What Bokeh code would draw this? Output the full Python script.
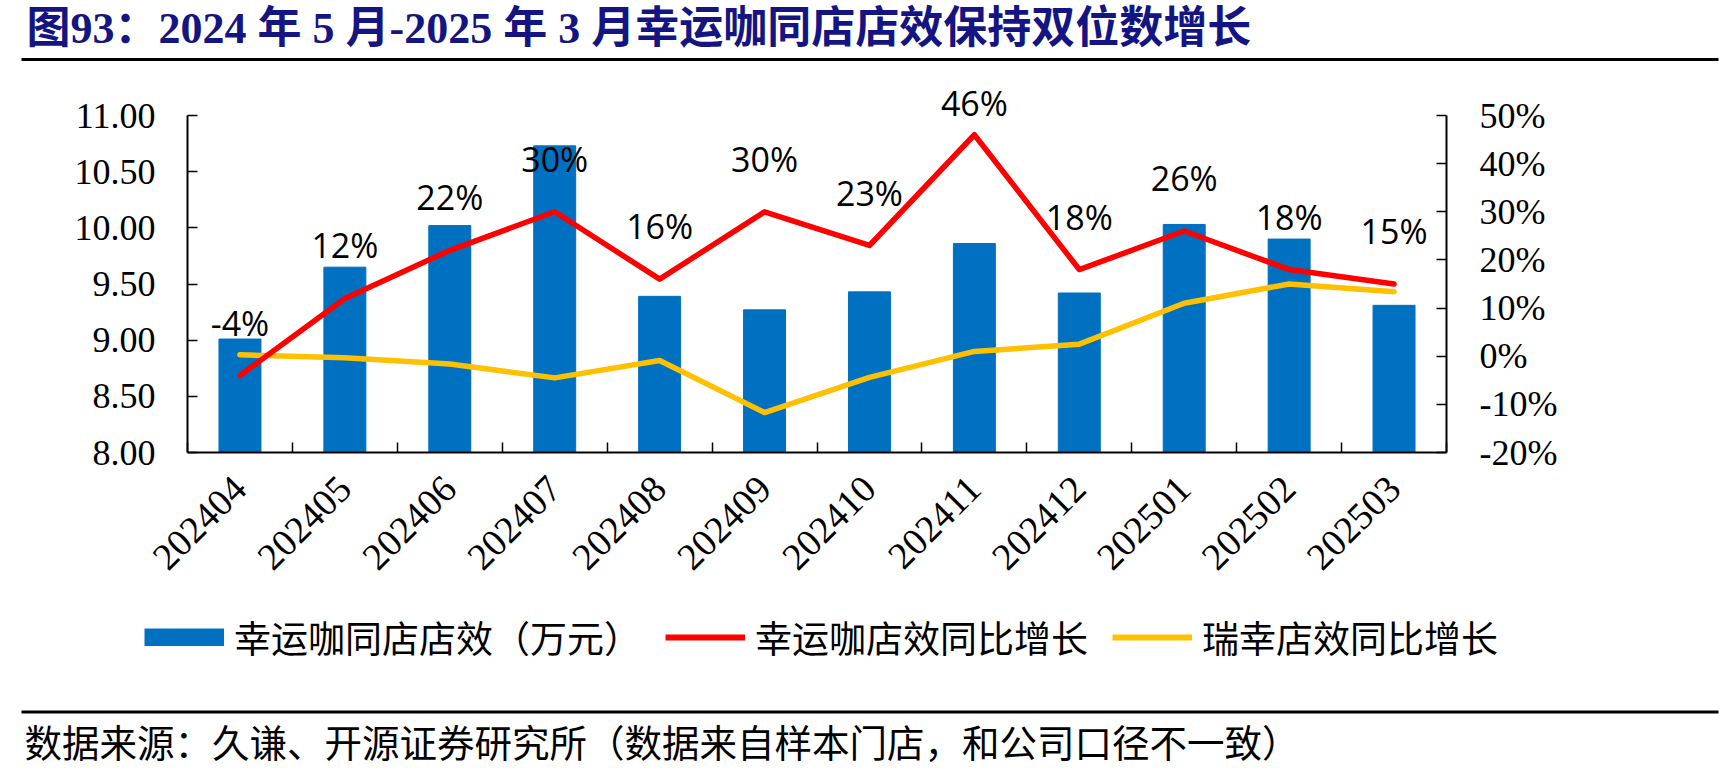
import math
from bokeh.plotting import figure
from bokeh.layouts import column
from bokeh.models import (ColumnDataSource, Range1d, LinearAxis, FixedTicker, PrintfTickFormatter,
                          NumeralTickFormatter, CustomJSTickFormatter, LabelSet, Label, Legend,
                          LegendItem, BoxAnnotation)
from bokeh.core.properties import value
from bokeh.embed import file_html
from bokeh.resources import INLINE

# ---------------- data ----------------
months = ["202404", "202405", "202406", "202407", "202408", "202409",
          "202410", "202411", "202412", "202501", "202502", "202503"]
store_eff = [9.01, 9.65, 10.02, 10.73, 9.39, 9.27, 9.43, 9.86, 9.42, 10.03, 9.90, 9.31]   # 万元
lucky_yoy = [-4, 12, 22, 30, 16, 30, 23, 46, 18, 26, 18, 15]                                # %
luckin_yoy = [0.3, -0.3, -1.6, -4.5, -0.9, -11.7, -4.4, 1.0, 2.5, 11.0, 15.0, 13.4]        # %
left_ticks = [8.0, 8.5, 9.0, 9.5, 10.0, 10.5, 11.0]
right_ticks = [-20, -10, 0, 10, 20, 30, 40, 50]

title_text = "图93：2024 年 5 月-2025 年 3 月幸运咖同店店效保持双位数增长"
source_text = "数据来源：久谦、开源证券研究所（数据来自样本门店，和公司口径不一致）"
legend_names = ["幸运咖同店店效（万元）", "幸运咖店效同比增长", "瑞幸店效同比增长"]

BAR_C, RED_C, YEL_C = "#0070C0", "#FF0000", "#FFC000"

# ---------------- layout constants (pixels, top-down) ----------------
W, H = 1735, 778
TOP_H = 80          # title strip
MAIN_BOTTOM = 600   # main chart strip ends here
FL, FR = 187, 1446  # frame left / right
AX_TOP, AX_BOT = 115, 452   # top / bottom of the value axes
L_MIN, L_MAX = 8.0, 11.0
R_MIN, R_MAX = -20.0, 50.0

frame_h = AX_BOT - TOP_H
scale = frame_h / (AX_BOT - AX_TOP)
l_top = L_MIN + (L_MAX - L_MIN) * scale
r_top = R_MIN + (R_MAX - R_MIN) * scale

# ================= title strip =================
top = figure(width=W, height=TOP_H, x_range=Range1d(0, W), y_range=Range1d(TOP_H, 0),
             x_axis_type=None, y_axis_type=None, output_backend="svg", toolbar_location=None,
             min_border=0, frame_align=False)
top.outline_line_color = None
top.add_layout(Label(x=26, y=28, text=title_text,
                     text_font="Liberation Serif, Noto Sans CJK SC", text_font_style="bold",
                     text_font_size="44px", text_color="#141482", text_baseline="middle"))
top.add_layout(BoxAnnotation(left=21, right=1718, top=57.5, bottom=60.5,
                             fill_color="black", fill_alpha=1, line_alpha=0))

# ================= main chart =================
xs = [i + 0.5 for i in range(len(months))]
lab_y = [min(v + 11.0, 52.5) for v in lucky_yoy]
lab_txt = [f"{v}%" for v in lucky_yoy]
src = ColumnDataSource(dict(x=xs, eff=store_eff, lucky=lucky_yoy, luckin=luckin_yoy,
                            lab_y=lab_y, lab=lab_txt))

p = figure(width=W, height=MAIN_BOTTOM - TOP_H, x_range=Range1d(0, len(months)),
           y_range=Range1d(L_MIN, l_top), output_backend="svg", toolbar_location=None,
           min_border_left=FL, min_border_right=W - FR, min_border_top=0,
           min_border_bottom=MAIN_BOTTOM - AX_BOT, frame_align=False)
p.extra_y_ranges = {"pct": Range1d(R_MIN, r_top)}
p.xgrid.visible = False
p.ygrid.visible = False
p.outline_line_color = None
p.background_fill_color = "white"
p.border_fill_color = "white"

AX_FONT = "Liberation Serif"
AX_SIZE = "36px"

xa = p.xaxis[0]
xa.ticker = FixedTicker(ticks=xs, minor_ticks=list(range(len(months) + 1)))
xa.formatter = CustomJSTickFormatter(args=dict(labels=months),
                                     code="return labels[Math.floor(tick)];")
xa.major_tick_in = 0
xa.major_tick_out = 0
xa.minor_tick_in = 10
xa.minor_tick_out = 0
xa.minor_tick_line_color = "black"
xa.minor_tick_line_width = 1.5
xa.major_label_orientation = math.pi / 4
xa.major_label_text_font = AX_FONT
xa.major_label_text_font_size = "38px"
xa.major_label_text_color = "black"
xa.major_label_standoff = 30
xa.axis_line_color = "black"
xa.axis_line_width = 2

ya = p.yaxis[0]
ya.bounds = (L_MIN, L_MAX)
ya.ticker = FixedTicker(ticks=left_ticks)
ya.formatter = NumeralTickFormatter(format="0.00")
ya.major_tick_in = 10
ya.major_tick_out = 0
ya.minor_tick_line_color = None
ya.major_tick_line_width = 1.5
ya.major_label_text_font = AX_FONT
ya.major_label_text_font_size = AX_SIZE
ya.major_label_text_color = "black"
ya.major_label_standoff = 32
ya.axis_line_color = "black"
ya.axis_line_width = 2

ra = LinearAxis(y_range_name="pct", ticker=FixedTicker(ticks=right_ticks),
                formatter=PrintfTickFormatter(format="%d%%"), bounds=(R_MIN, R_MAX))
ra.major_tick_in = 10
ra.major_tick_out = 0
ra.minor_tick_line_color = None
ra.major_tick_line_width = 1.5
ra.major_label_text_font = AX_FONT
ra.major_label_text_font_size = AX_SIZE
ra.major_label_text_color = "black"
ra.major_label_standoff = 33
ra.axis_line_color = "black"
ra.axis_line_width = 2
p.add_layout(ra, "right")

p.vbar(x="x", top="eff", bottom=L_MIN, width=0.4, source=src,
       fill_color=BAR_C, line_color=BAR_C)
p.line(x="x", y="luckin", y_range_name="pct", source=src, line_color=YEL_C,
       line_width=5.5, line_cap="round", line_join="round")
p.line(x="x", y="lucky", y_range_name="pct", source=src, line_color=RED_C,
       line_width=5.5, line_cap="round", line_join="round")

p.add_layout(LabelSet(x="x", y="lab_y", text="lab", y_range_name="pct", source=src,
                      text_align="center", text_baseline="middle",
                      text_font=value("Open Sans"), text_font_size="34px", text_color="black"))

# ================= legend + source strip =================
BH = H - MAIN_BOTTOM
bot = figure(width=W, height=BH, x_range=Range1d(0, W), y_range=Range1d(H, MAIN_BOTTOM),
             x_axis_type=None, y_axis_type=None, output_backend="svg", toolbar_location=None,
             min_border=0, frame_align=False)
bot.outline_line_color = None
# legend proxies: same series, mapped through a range that keeps them off the strip
bot.extra_x_ranges = {"off": Range1d(1000, 2000)}
lb = bot.line(x="x", y="eff", source=src, x_range_name="off", line_color=BAR_C,
              line_width=18, line_cap="butt")
lr = bot.line(x="x", y="lucky", source=src, x_range_name="off", line_color=RED_C,
              line_width=6)
ly = bot.line(x="x", y="luckin", source=src, x_range_name="off", line_color=YEL_C,
              line_width=6)
legend = Legend(items=[LegendItem(label=legend_names[0], renderers=[lb]),
                       LegendItem(label=legend_names[1], renderers=[lr]),
                       LegendItem(label=legend_names[2], renderers=[ly])],
                orientation="horizontal", location=(144, H - 664),
                glyph_width=80, glyph_height=18, label_standoff=10, spacing=24,
                padding=0, margin=0, border_line_color=None, background_fill_alpha=0,
                label_text_font="Noto Sans CJK SC", label_text_font_size="37px",
                label_text_color="black", label_text_baseline="middle")
bot.add_layout(legend)
bot.add_layout(BoxAnnotation(left=21, right=1718, top=710, bottom=713,
                             fill_color="black", fill_alpha=1, line_alpha=0))
bot.add_layout(Label(x=24, y=740, text=source_text, text_font="Noto Sans CJK SC",
                     text_font_size="37.5px", text_color="black", text_baseline="middle"))

layout = column(top, p, bot, spacing=0)
open("out.html", "w").write(file_html(layout, INLINE))
